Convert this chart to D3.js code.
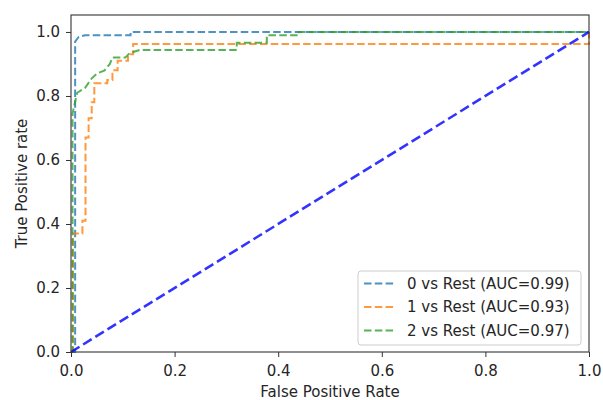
<!DOCTYPE html>
<html>
<head>
<meta charset="utf-8" />
<title>ROC curves</title>
<script src="https://cdn.jsdelivr.net/npm/d3@7"></script>
<style>
  body { margin: 0; background: #fff; }
  text { font-family: "DejaVu Sans", sans-serif; fill: #262626; }
</style>
</head>
<body>
<div id="chart"></div>
<script>
// ROC points: [fpr, tpr]
var roc0 = [[0, 0], [0.008, 0], [0.008, 0.97], [0.015, 0.985], [0.027, 0.99],
  [0.115, 0.99], [0.115, 1.0], [1, 1]];
var roc1 = [[0, 0], [0.004, 0], [0.004, 0.37], [0.022, 0.37], [0.022, 0.41], [0.028, 0.41],
  [0.028, 0.67], [0.034, 0.67], [0.034, 0.73], [0.04, 0.73], [0.04, 0.78], [0.045, 0.78],
  [0.045, 0.84], [0.07, 0.84], [0.07, 0.85], [0.08, 0.85], [0.08, 0.88], [0.09, 0.88],
  [0.09, 0.91], [0.11, 0.91], [0.11, 0.93], [0.12, 0.93], [0.12, 0.962], [1, 0.962], [1, 1]];
var roc2 = [[0, 0], [0.003, 0], [0.003, 0.745], [0.01, 0.797], [0.012, 0.81], [0.027, 0.825],
  [0.04, 0.855], [0.05, 0.87], [0.065, 0.88], [0.075, 0.9], [0.08, 0.92], [0.105, 0.92],
  [0.113, 0.934], [0.133, 0.944], [0.32, 0.944], [0.32, 0.966], [0.378, 0.966],
  [0.378, 0.99], [0.44, 0.99], [0.44, 1.0], [1, 1]];
var chance = [[0, 0], [1, 1]];

var seriesNames = ["0 vs Rest (AUC=0.99)", "1 vs Rest (AUC=0.93)", "2 vs Rest (AUC=0.97)"];
var seriesColors = ["#1f77b4", "#ff7f0e", "#2ca02c"];
var xTicks = [0, 0.2, 0.4, 0.6, 0.8, 1.0];
var yTicks = [0, 0.2, 0.4, 0.6, 0.8, 1.0];

var width = 603, height = 400;
var margin = {left: 71, right: 14, top: 15, bottom: 48};
var fontSize = "15px";

var svg = d3.select("#chart").append("svg")
  .attr("width", width)
  .attr("height", height);

var x = d3.scaleLinear().domain([0, 1]).range([margin.left, width - margin.right]);
var y = d3.scaleLinear().domain([0, 1.053]).range([height - margin.bottom, margin.top]);

var line = d3.line()
  .x(function (d) { return x(d[0]); })
  .y(function (d) { return y(d[1]); });

// curves
[roc0, roc1, roc2].forEach(function (pts, i) {
  svg.append("path")
    .attr("d", line(pts))
    .attr("fill", "none")
    .attr("stroke", seriesColors[i])
    .attr("stroke-opacity", 0.8)
    .attr("stroke-width", 2)
    .attr("stroke-dasharray", "7.5,3.3");
});

svg.append("path")
  .attr("d", line(chance))
  .attr("fill", "none")
  .attr("stroke", "#0000ff")
  .attr("stroke-opacity", 0.8)
  .attr("stroke-width", 2.6)
  .attr("stroke-dasharray", "10,4.3");

// axes
var xAxis = d3.axisBottom(x).tickValues(xTicks).tickFormat(d3.format(".1f")).tickSize(5).tickPadding(8);
var yAxis = d3.axisLeft(y).tickValues(yTicks).tickFormat(d3.format(".1f")).tickSize(5).tickPadding(6);

var gx = svg.append("g")
  .attr("transform", "translate(0," + (height - margin.bottom) + ")")
  .call(xAxis);
var gy = svg.append("g")
  .attr("transform", "translate(" + margin.left + ",0)")
  .call(yAxis);

[gx, gy].forEach(function (g) {
  g.select(".domain").remove();
  g.selectAll(".tick line").attr("stroke", "#333").attr("stroke-width", 1);
  g.selectAll(".tick text").style("font-size", fontSize).attr("fill", "#262626");
});

// frame
svg.append("rect")
  .attr("x", margin.left)
  .attr("y", margin.top)
  .attr("width", width - margin.left - margin.right)
  .attr("height", height - margin.top - margin.bottom)
  .attr("fill", "none")
  .attr("stroke", "#333")
  .attr("stroke-width", 1.1);

// labels
svg.append("text")
  .attr("x", (margin.left + width - margin.right) / 2)
  .attr("y", 397)
  .attr("text-anchor", "middle")
  .style("font-size", fontSize)
  .text("False Positive Rate");

svg.append("text")
  .attr("transform", "translate(27," + ((margin.top + height - margin.bottom) / 2) + ") rotate(-90)")
  .attr("text-anchor", "middle")
  .style("font-size", fontSize)
  .text("True Positive rate");

// legend
var legend = svg.append("g").attr("transform", "translate(358,271)");
legend.append("rect")
  .attr("width", 223)
  .attr("height", 74)
  .attr("rx", 3)
  .attr("fill", "#fff")
  .attr("fill-opacity", 0.8)
  .attr("stroke", "#ccc")
  .attr("stroke-width", 1);

seriesNames.forEach(function (name, i) {
  var row = legend.append("g").attr("transform", "translate(0," + (12.5 + i * 23.5) + ")");
  row.append("line")
    .attr("x1", 6).attr("x2", 37)
    .attr("stroke", seriesColors[i])
    .attr("stroke-opacity", 0.8)
    .attr("stroke-width", 2)
    .attr("stroke-dasharray", "7.5,3.3");
  row.append("text")
    .attr("x", 49)
    .attr("dy", "0.35em")
    .style("font-size", fontSize)
    .text(name);
});
</script>
</body>
</html>
